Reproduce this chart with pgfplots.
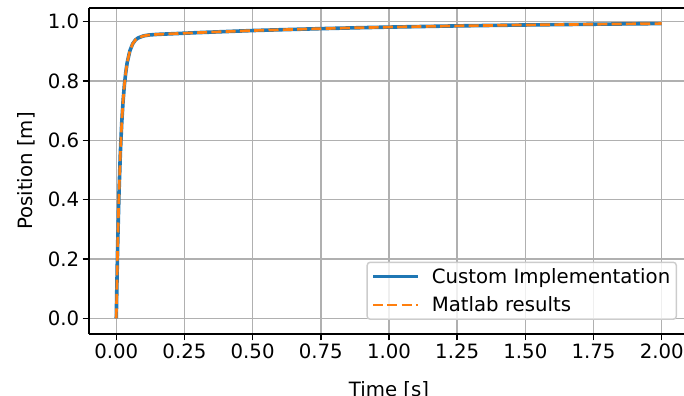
\documentclass[border=0pt]{standalone}
\usepackage{fontspec}
\setmainfont{DejaVu Sans}
\usepackage{pgfplots}
\usepackage{pgfplotstable}
\pgfplotsset{compat=1.18}
\definecolor{mplblue}{HTML}{1F77B4}
\definecolor{mplorange}{HTML}{FF7F0E}
\definecolor{gridgray}{HTML}{B0B0B0}
\definecolor{legedge}{HTML}{CCCCCC}
\pgfplotstableread{
t y
0 0
0.005 0.243
0.01 0.423
0.015 0.558
0.02 0.658
0.025 0.733
0.03 0.789
0.035 0.830
0.04 0.862
0.05 0.902
0.06 0.925
0.07 0.938
0.08 0.945
0.1 0.952
0.12 0.955
0.15 0.957
0.2 0.959
0.25 0.961
0.3 0.963
0.4 0.9665
0.5 0.970
0.6 0.9726
0.75 0.9764
0.9 0.9797
1.0 0.9816
1.25 0.9857
1.5 0.9888
1.75 0.9913
2.0 0.9935
}\datatable
\begin{document}
\begin{tikzpicture}
\path[use as bounding box] (0bp,0bp) rectangle (684bp,396bp);
\clip (0bp,0bp) rectangle (684bp,396bp);
\begin{axis}[
  at={(89bp,62bp)}, anchor=south west,
  scale only axis, width=600bp, height=326bp,
  xmin=-0.1, xmax=2.1, ymin=-0.053, ymax=1.046,
  axis lines*=left,
  xtick={0,0.25,...,2.0},
  ytick={0,0.2,...,1.0},
  xticklabel style={/pgf/number format/.cd, fixed, fixed zerofill, precision=2},
  yticklabel style={/pgf/number format/.cd, fixed, fixed zerofill, precision=1},
  /pgf/number format/assume math mode=true,
  tick label style={font=\fontsize{19.8}{23}\selectfont, text=black},
  label style={font=\fontsize{19.8}{23}\selectfont},
  xlabel={Time [s]}, ylabel={Position [m]},
  xlabel style={at={(axis description cs:0.5,-0.1917)}, anchor=base},
  ylabel style={at={(axis description cs:-0.0942,0.5)}, anchor=base, rotate=0},
  tick align=outside,
  major tick length=6.3bp,
  every tick/.style={black, line width=1.44bp},
  axis line style={black, line width=1.44bp, -},
  grid=major,
  major grid style={gridgray, line width=1.44bp},
  legend cell align=left,
  legend style={at={(axis description cs:0.98,0.043)}, anchor=south east,
    draw=legedge, line width=1.44bp, rounded corners=3bp,
    fill=white, fill opacity=0.8, text opacity=1,
    font=\fontsize{19.8}{23}\selectfont,
    inner xsep=4bp, inner ysep=4bp, row sep=8bp,
    nodes={inner sep=2bp},
    /tikz/every odd column/.style={column sep=10bp}},
  legend image code/.code={\draw[#1] (0bp,0bp) -- (45bp,0bp);},
]
\addplot[mplblue, line width=3.6bp] table[x=t,y=y] {\datatable};
\addlegendentry{Custom Implementation}
\addplot[mplorange, line width=2.7bp, dash pattern=on 10bp off 4.3bp] table[x=t,y=y] {\datatable};
\addlegendentry{Matlab results}
\draw[black, line width=1.44bp] (rel axis cs:0,1) -- (rel axis cs:1,1);
\end{axis}
\end{tikzpicture}
\end{document}
